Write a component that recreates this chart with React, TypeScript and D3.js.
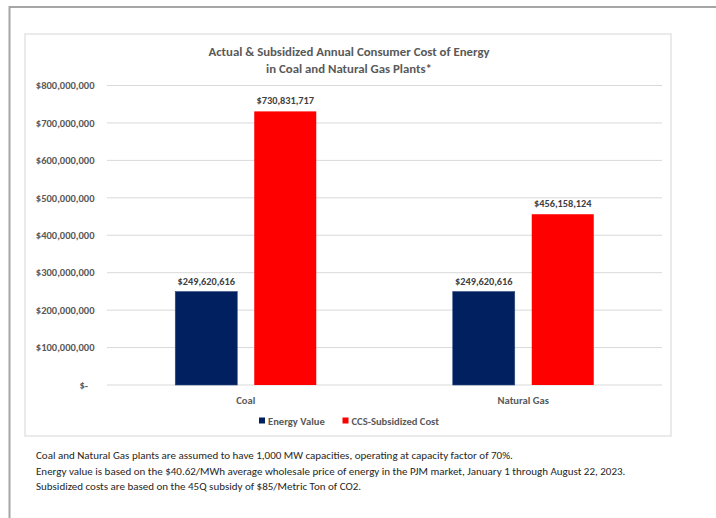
import React from "react";
import * as d3 from "d3";

const categories = ["Coal", "Natural Gas"];
const seriesNames = ["Energy Value", "CCS-Subsidized Cost"];
const energyValue = [249620616, 249620616];
const ccsSubsidizedCost = [730831717, 456158124];
const yTicks = [0, 100000000, 200000000, 300000000, 400000000, 500000000, 600000000, 700000000, 800000000];
const titleLines = ["Actual & Subsidized Annual Consumer Cost of Energy", "in Coal and Natural Gas Plants*"];
const footnotes = [
  "Coal and Natural Gas plants are assumed to have 1,000 MW capacities, operating at capacity factor of 70%.",
  "Energy value is based on the $40.62/MWh average wholesale price of energy in the PJM market, January 1 through August 22, 2023.",
  "Subsidized costs are based on the 45Q subsidy of $85/Metric Ton of CO2.",
];
const colors = ["#002060", "#FF0000"];

const FONT = "Carlito, Lato, 'Open Sans', sans-serif";

export default function App() {
  const W = 716, H = 518;
  const plotLeft = 107, plotRight = 662, plotTop = 85.5, plotBottom = 385;
  const x = d3.scaleBand<string>().domain(categories).range([plotLeft, plotRight]).paddingInner(0).paddingOuter(0);
  const y = d3.scaleLinear().domain([0, 800000000]).range([plotBottom, plotTop]);
  const barW = 62, gap = 17;
  const series = [energyValue, ccsSubsidizedCost];
  const money = d3.format("$,.0f");
  const tickFmt = (v: number) => (v === 0 ? "$-" : money(v));

  return (
    <svg width={W} height={H} style={{ position: "absolute", left: 0, top: 0, background: "#fff" }} fontFamily={FONT}>
      <rect x={0} y={0} width={W} height={H} fill="#fff" />
      {/* outer page border */}
      <path d={`M9.5,${H} V7 H${W}`} fill="none" stroke="#a6a6a6" strokeWidth={2} />
      {/* chart area */}
      <rect x={25} y={34} width={646} height={402} fill="#fff" stroke="#e3e3e3" strokeWidth={1.5} />
      {/* title */}
      {titleLines.map((t, i) => (
        <text key={i} x={349} y={55.5 + i * 17} textAnchor="middle" fontSize={12.8} fontWeight={600} fill="#595959">{t}</text>
      ))}
      {/* gridlines + y labels */}
      {yTicks.map((v) => (
        <g key={v}>
          <line x1={plotLeft} x2={plotRight} y1={y(v)} y2={y(v)} stroke="#d9d9d9" strokeWidth={1} />
          <text x={v === 0 ? 88 : 94.5} y={y(v) + 3.7} textAnchor="end" fontSize={10.5} fontWeight={600} fill="#595959">{tickFmt(v)}</text>
        </g>
      ))}
      {/* bars */}
      {categories.map((c, ci) => {
        const cx = (x(c) as number) + x.bandwidth() / 2;
        const groupW = barW * 2 + gap;
        return (
          <g key={c}>
            {series.map((s, si) => {
              const bx = cx - groupW / 2 + si * (barW + gap);
              const by = y(s[ci]);
              return (
                <g key={si}>
                  <rect x={bx} y={by} width={barW} height={plotBottom - by} fill={colors[si]} stroke={si === 0 ? "#2F4A80" : "none"} strokeWidth={0.6} />
                  <text x={bx + barW / 2} y={by - 7} textAnchor="middle" fontSize={10.3} fontWeight={700} fill="#404040">{money(s[ci])}</text>
                </g>
              );
            })}
            <text x={cx} y={403.5} textAnchor="middle" fontSize={10.6} fontWeight={600} fill="#595959">{c}</text>
          </g>
        );
      })}
      {/* legend */}
      {seriesNames.map((n, i) => {
        const lx = i === 0 ? 259 : 342.5;
        return (
          <g key={n}>
            <rect x={lx} y={417.5} width={6} height={6} fill={colors[i]} />
            <text x={lx + 9} y={424.8} fontSize={10.6} fontWeight={600} fill="#595959">{n}</text>
          </g>
        );
      })}
      {/* footnotes */}
      {footnotes.map((f, i) => (
        <text key={i} x={36} y={459 + i * 15.5} fontSize={11} fill="#262626">{f}</text>
      ))}
    </svg>
  );
}
